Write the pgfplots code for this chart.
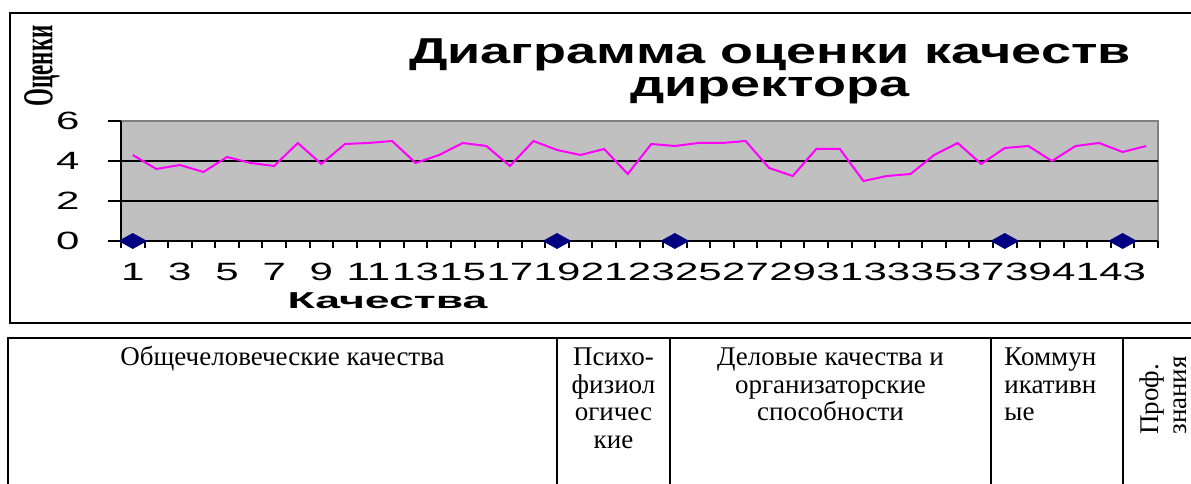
\documentclass[border=0pt]{standalone}
\usepackage{fontspec}
\setmainfont{Liberation Serif}
\newfontfamily\arial{Liberation Sans}
\usepackage{pgfplots}
\pgfplotsset{compat=1.18}
\newcommand{\sx}[2]{\scalebox{#1}[1]{#2}}
\definecolor{plotgray}{RGB}{192,192,192}
\definecolor{navyblue}{RGB}{0,0,128}
\definecolor{edgegray}{RGB}{128,128,128}
\definecolor{magline}{RGB}{255,0,255}
\begin{document}
\begin{tikzpicture}
\path[use as bounding box] (0,0) rectangle (595.5pt,241.5pt);
\clip (0,0) rectangle (595.5pt,241.5pt);
% chart border
\draw[line width=1pt] (5pt,80pt) rectangle (600pt,235pt);
% title and labels
\node[anchor=base, inner sep=0pt] at (385pt,209.5pt) {\sx{1.5}{\arial\bfseries\fontsize{18}{18}\selectfont Диаграмма оценки качеств}};
\node[anchor=base, inner sep=0pt] at (385pt,193pt) {\sx{1.5}{\arial\bfseries\fontsize{18}{18}\selectfont директора}};
\node[inner sep=0pt] at (21pt,208.5pt) {\sx{1.85}{\rotatebox{90}{\fontsize{11.5}{12}\selectfont\bfseries Оценки}}};
\node[anchor=base, inner sep=0pt] at (193.75pt,87pt) {\sx{1.94}{\arial\bfseries\fontsize{11.5}{12}\selectfont Качества}};
\begin{axis}[
  at={(60.5pt,121pt)}, anchor=south west,
  scale only axis, width=518.5pt, height=60pt,
  xmin=0.5, xmax=44.5, ymin=0, ymax=6,
  clip=false,
  axis x line=bottom, axis y line=left,
  axis line style={-, line width=1.2pt, black},
  axis background/.style={fill=plotgray, draw=edgegray, line width=0.8pt},
  tick align=outside,
  ytick={0,2,4,6},
  xtick={1,3,...,43},
  major x tick style={draw=none},
  ytick style={line width=1pt, black},
  minor xtick={0.5,1.5,...,44.5},
  minor x tick style={line width=1pt, black},
  major tick length=6.5pt,
  minor tick length=3.5pt,
  extra y ticks={2,4},
  extra y tick labels={},
  extra y tick style={grid=major, major grid style={black, line width=0.6pt}, tick style={draw=none}},
  yticklabel={\sx{1.68}{\arial\fontsize{12.5}{12.5}\selectfont\pgfmathprintnumber[assume math mode=true]{\tick}}},
  xticklabel={\sx{1.68}{\arial\fontsize{12.5}{12.5}\selectfont\pgfmathprintnumber[assume math mode=true]{\tick}}},
  yticklabel style={inner sep=0pt, anchor=east},
  xticklabel style={inner sep=0pt, anchor=north},
  yticklabel shift=14pt,
  xticklabel shift=4.5pt,
]
\addplot[magline, line width=1pt, mark=none] coordinates {
(1,4.3)(2,3.6)(3,3.8)(4,3.45)(5,4.2)(6,3.9)(7,3.75)(8,4.9)(9,3.85)(10,4.85)
(11,4.9)(12,5.0)(13,3.9)(14,4.3)(15,4.9)(16,4.75)(17,3.75)(18,5.0)(19,4.55)(20,4.3)
(21,4.6)(22,3.35)(23,4.85)(24,4.75)(25,4.9)(26,4.9)(27,5.0)(28,3.65)(29,3.25)(30,4.6)
(31,4.6)(32,3.0)(33,3.25)(34,3.35)(35,4.3)(36,4.9)(37,3.85)(38,4.65)(39,4.75)(40,4.0)
(41,4.75)(42,4.9)(43,4.45)(44,4.75)};
\addplot[only marks, mark=diamond*, color=navyblue, mark size=3.75pt, mark options={xscale=2.4}] coordinates {
(1,0)(19,0)(24,0)(38,0)(43,0)};
\end{axis}
% table
\begin{scope}[line width=1.2pt]
\draw (4pt,-5pt) -- (4pt,72.5pt) -- (600pt,72.5pt);
\draw (278.5pt,-5pt) -- (278.5pt,72.5pt);
\draw (335pt,-5pt) -- (335pt,72.5pt);
\draw (495.5pt,-5pt) -- (495.5pt,72.5pt);
\draw (561.5pt,-5pt) -- (561.5pt,72.5pt);
\end{scope}
\begin{scope}[every node/.style={inner sep=0pt, font=\fontsize{13.5}{14}\selectfont}]
\node[anchor=base] at (141.25pt,59pt) {Общечеловеческие качества};
\node[anchor=base] at (306.75pt,59pt) {Психо-};
\node[anchor=base] at (306.75pt,45pt) {физиол};
\node[anchor=base] at (306.75pt,31pt) {огичес};
\node[anchor=base] at (306.75pt,17pt) {кие};
\node[anchor=base] at (415.25pt,59pt) {Деловые качества и};
\node[anchor=base] at (415.25pt,45pt) {организаторские};
\node[anchor=base] at (415.25pt,31pt) {способности};
\node[anchor=base west] at (502pt,59pt) {Коммун};
\node[anchor=base west] at (502pt,45pt) {икативн};
\node[anchor=base west] at (502pt,31pt) {ые};
\node[rotate=90, anchor=base west] at (579pt,24pt) {Проф.};
\node[rotate=90, anchor=base west] at (593pt,24pt) {знания};
\end{scope}
\end{tikzpicture}
\end{document}
